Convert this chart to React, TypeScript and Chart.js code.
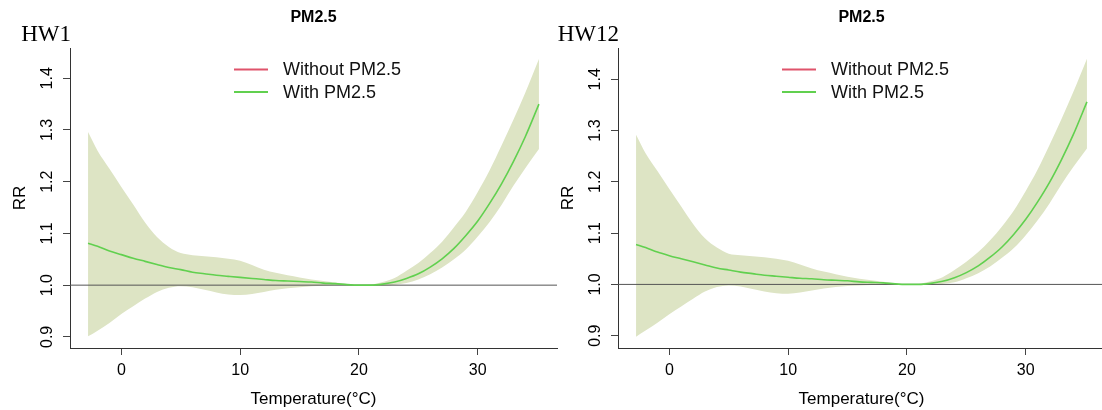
import React, { useEffect, useRef } from "react";
import { Chart, registerables } from "chart.js";

Chart.register(...registerables);

// ---------- data ----------
const temps = [-2.8, -2, -1, 0, 1, 2, 3, 4, 5, 6, 7, 8, 9, 10, 11, 12, 13, 14, 15, 16, 17, 18, 19, 20, 21, 22, 23, 24, 25, 26, 27, 28, 29, 30, 31, 32, 33, 34, 35.15];

const hw1Fit = [1.081, 1.075, 1.066, 1.059, 1.052, 1.046, 1.04, 1.034, 1.03, 1.025, 1.022, 1.019, 1.017, 1.015, 1.013, 1.011, 1.009, 1.008, 1.007, 1.006, 1.004, 1.003, 1.001, 1.0, 1.0, 1.002, 1.006, 1.013, 1.022, 1.035, 1.051, 1.071, 1.096, 1.124, 1.158, 1.196, 1.239, 1.287, 1.35];
const hw1Upper = [1.296, 1.26, 1.225, 1.19, 1.156, 1.121, 1.093, 1.074, 1.062, 1.058, 1.056, 1.054, 1.051, 1.047, 1.039, 1.03, 1.024, 1.019, 1.015, 1.011, 1.008, 1.005, 1.002, 1.0, 1.001, 1.006, 1.014, 1.028, 1.043, 1.062, 1.084, 1.112, 1.142, 1.18, 1.222, 1.27, 1.32, 1.372, 1.437];
const hw1Lower = [0.901, 0.912, 0.927, 0.944, 0.959, 0.974, 0.987, 0.995, 0.998, 0.996, 0.991, 0.986, 0.982, 0.981, 0.983, 0.987, 0.991, 0.994, 0.996, 0.998, 0.999, 1.0, 1.0, 1.0, 0.999, 0.999, 1.001, 1.004, 1.011, 1.021, 1.034, 1.05, 1.069, 1.094, 1.122, 1.155, 1.192, 1.226, 1.263];

const hw12Fit = [1.078, 1.072, 1.063, 1.056, 1.05, 1.044, 1.038, 1.032, 1.028, 1.024, 1.021, 1.018, 1.016, 1.014, 1.012, 1.011, 1.009, 1.008, 1.007, 1.005, 1.004, 1.003, 1.001, 1.0, 1.0, 1.002, 1.006, 1.013, 1.023, 1.036, 1.053, 1.073, 1.098, 1.127, 1.161, 1.199, 1.243, 1.292, 1.356];
const hw12Upper = [1.292, 1.256, 1.221, 1.186, 1.152, 1.118, 1.09, 1.072, 1.06, 1.057, 1.055, 1.053, 1.05, 1.046, 1.039, 1.031, 1.025, 1.02, 1.015, 1.011, 1.008, 1.005, 1.002, 1.0, 1.001, 1.006, 1.014, 1.028, 1.044, 1.063, 1.086, 1.113, 1.144, 1.182, 1.224, 1.272, 1.322, 1.375, 1.44];
const hw12Lower = [0.898, 0.91, 0.925, 0.942, 0.957, 0.972, 0.986, 0.995, 0.998, 0.996, 0.991, 0.986, 0.983, 0.982, 0.984, 0.988, 0.992, 0.995, 0.997, 0.998, 0.999, 1.0, 1.0, 1.0, 0.999, 0.999, 1.001, 1.004, 1.012, 1.022, 1.035, 1.052, 1.071, 1.096, 1.125, 1.158, 1.195, 1.229, 1.265];

const xTicks = [0, 10, 20, 30];
const yTicks = [0.9, 1.0, 1.1, 1.2, 1.3, 1.4];
const xRange = [-4.32, 36.67];
const hw1YRange = [0.8785, 1.4585];
const hw12YRange = [0.876, 1.461];
const refValue = 1.0;
const seriesLabels = ["Without PM2.5", "With PM2.5"];
const panelTitle = "PM2.5";
const xTitle = "Temperature(\u00B0C)";
const yTitle = "RR";

// ---------- styles ----------
const SANS = '"Liberation Sans", Arial, Helvetica, sans-serif';
const SERIF = '"Liberation Serif", "Times New Roman", serif';
const BAND = "rgb(221,228,196)";
const GREEN = "#61D04F";
const RED = "#DF536B";
const AXIS = "#333333";

const decorPlugin = {
  id: "panelDecor",
  afterDraw(chart: any, _args: any, opts: any) {
    const { ctx, chartArea } = chart;
    ctx.save();
    ctx.fillStyle = "#000";
    ctx.font = `bold 16px ${SANS}`;
    ctx.textAlign = "center";
    ctx.textBaseline = "middle";
    ctx.fillText(opts.title, (chartArea.left + chartArea.right) / 2, 18);

    ctx.font = `23px ${SERIF}`;
    ctx.textAlign = "right";
    ctx.textBaseline = "alphabetic";
    ctx.fillText(opts.label, chartArea.left + 1, 41);

    const items = chart.data.datasets.filter((d: any) => d.inLegend);
    items.sort((a: any, b: any) => a.legendIndex - b.legendIndex);
    ctx.font = `18px ${SANS}`;
    ctx.textAlign = "left";
    ctx.textBaseline = "middle";
    items.forEach((d: any, i: number) => {
      const y = 69.5 + i * 22.5;
      const x0 = chartArea.left + 164;
      ctx.strokeStyle = d.borderColor;
      ctx.lineWidth = 2;
      ctx.beginPath();
      ctx.moveTo(x0, y);
      ctx.lineTo(x0 + 34, y);
      ctx.stroke();
      ctx.fillStyle = "#111";
      ctx.fillText(d.label, x0 + 49, y + 1);
    });
    ctx.restore();
  },
};

function makeConfig(label: string, fit: number[], upper: number[], lower: number[], yRange: number[]) {
  const pts = (arr: number[]) => temps.map((t, i) => ({ x: t, y: arr[i] }));
  return {
    type: "line",
    data: {
      datasets: [
        {
          label: "lower",
          data: pts(lower),
          borderWidth: 0,
          pointRadius: 0,
          fill: false,
          cubicInterpolationMode: "monotone",
          order: 5,
        },
        {
          label: "upper",
          data: pts(upper),
          borderWidth: 0,
          pointRadius: 0,
          backgroundColor: BAND,
          fill: "-1",
          cubicInterpolationMode: "monotone",
          order: 4,
        },
        {
          label: "ref",
          data: [
            { x: xRange[0], y: refValue },
            { x: xRange[1], y: refValue },
          ],
          borderColor: "#555555",
          borderWidth: 1,
          pointRadius: 0,
          fill: false,
          order: 2,
        },
        {
          label: seriesLabels[1],
          data: pts(fit),
          borderColor: GREEN,
          borderWidth: 1.6,
          pointRadius: 0,
          fill: false,
          cubicInterpolationMode: "monotone",
          order: 1,
          inLegend: true,
          legendIndex: 1,
        },
        {
          label: seriesLabels[0],
          data: [],
          borderColor: RED,
          borderWidth: 1.6,
          pointRadius: 0,
          fill: false,
          order: 0,
          inLegend: true,
          legendIndex: 0,
        },
      ],
    },
    options: {
      animation: false,
      responsive: false,
      events: [],
      layout: { padding: { top: 48, right: 3, left: 0, bottom: 0 } },
      plugins: {
        legend: { display: false },
        tooltip: { enabled: false },
        title: { display: false },
        panelDecor: { title: panelTitle, label },
      },
      scales: {
        x: {
          type: "linear",
          min: xRange[0],
          max: xRange[1],
          afterBuildTicks: (s: any) => {
            s.ticks = xTicks.map((v) => ({ value: v }));
          },
          afterFit: (s: any) => {
            s.height = 62;
          },
          border: { display: true, color: AXIS, width: 1 },
          grid: { display: true, drawOnChartArea: false, drawTicks: true, tickLength: 7, tickColor: "#444", color: "#444" },
          ticks: {
            font: { family: SANS, size: 16 },
            color: "#000",
            padding: 6,
            maxRotation: 0,
            minRotation: 0,
            callback: (v: any) => String(v),
          },
          title: {
            display: true,
            text: xTitle,
            font: { family: SANS, size: 17 },
            color: "#000",
            padding: { top: 0, bottom: 0 },
          },
        },
        y: {
          type: "linear",
          min: yRange[0],
          max: yRange[1],
          afterBuildTicks: (s: any) => {
            s.ticks = yTicks.map((v) => ({ value: v }));
          },
          afterFit: (s: any) => {
            s.width = 70;
          },
          border: { display: true, color: AXIS, width: 1 },
          grid: { display: true, drawOnChartArea: false, drawTicks: true, tickLength: 7, tickColor: "#444", color: "#444" },
          ticks: {
            font: { family: SANS, size: 16 },
            color: "#000",
            padding: 4,
            minRotation: 90,
            maxRotation: 90,
            crossAlign: "center",
            callback: (v: any) => Number(v).toFixed(1),
          },
          title: {
            display: true,
            text: yTitle,
            font: { family: SANS, size: 17 },
            color: "#000",
            padding: { top: 10, bottom: 0 },
          },
        },
      },
    },
    plugins: [decorPlugin],
  };
}

function Panel(props: { left: number; label: string; fit: number[]; upper: number[]; lower: number[]; yRange: number[] }) {
  const ref = useRef<HTMLCanvasElement | null>(null);
  useEffect(() => {
    if (!ref.current) return;
    const chart = new Chart(ref.current, makeConfig(props.label, props.fit, props.upper, props.lower, props.yRange) as any);
    return () => chart.destroy();
  }, []);
  return (
    <div style={{ position: "absolute", left: props.left, top: 0, width: 560, height: 410 }}>
      <canvas ref={ref} width={560} height={410} style={{ width: 560, height: 410, display: "block" }} />
    </div>
  );
}

export default function App() {
  return (
    <div style={{ position: "absolute", left: 0, top: 0, width: 1102, height: 410, overflow: "hidden", background: "#fff" }}>
      <Panel left={0} label="HW1" fit={hw1Fit} upper={hw1Upper} lower={hw1Lower} yRange={hw1YRange} />
      <Panel left={548} label="HW12" fit={hw12Fit} upper={hw12Upper} lower={hw12Lower} yRange={hw12YRange} />
    </div>
  );
}
